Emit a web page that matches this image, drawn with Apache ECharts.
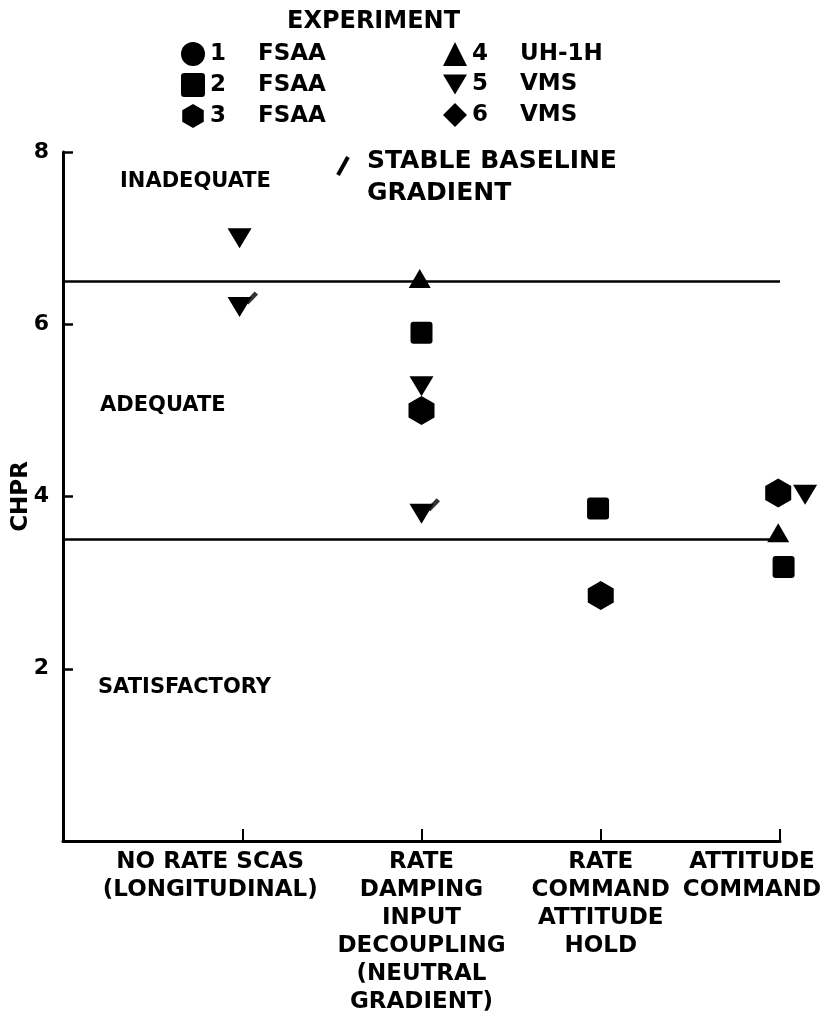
<!DOCTYPE html>
<html><head><meta charset="utf-8">
<script src="https://cdn.jsdelivr.net/npm/echarts@6/dist/echarts.min.js"></script>
<style>html,body{margin:0;padding:0;background:#fff}#c{width:831px;height:1013px}</style>
</head><body><div id="c"></div>
<script>
// categories along the x axis (positions 1..4)
const categories = [
  'NO RATE SCAS\n(LONGITUDINAL)',
  'RATE\nDAMPING\nINPUT\nDECOUPLING\n(NEUTRAL\nGRADIENT)',
  'RATE\nCOMMAND\nATTITUDE\nHOLD',
  'ATTITUDE\nCOMMAND'
];
const yTicks = [0, 2, 4, 6, 8];
const thresholds = [6.5, 3.5];
const regionLabels = ['INADEQUATE', 'ADEQUATE', 'SATISFACTORY'];
const expNames = ['1 FSAA', '2 FSAA', '3 FSAA', '4 UH-1H', '5 VMS', '6 VMS'];
// [category position (slightly jittered as in original), CHPR]
const exp1 = [];
const exp2 = [[2.0, 5.9], [2.985, 3.86], [4.02, 3.18]];
const exp3 = [[2.0, 5.0], [3.0, 2.85], [3.99, 4.04]];
const exp4 = [[1.99, 6.53], [3.99, 3.58]];
const exp5 = [[0.985, 7.0], [0.985, 6.2], [2.0, 5.28], [2.0, 3.8], [4.14, 4.02]];
const exp6 = [];
const stableBaseline = [[0.985, 6.2], [2.0, 3.8]];

const FONT = 'DejaVu Sans';
const HEX = 'path://M13,0 L26,7.5 L26,21.5 L13,29 L0,21.5 L0,7.5 Z';
const DOWN = 'path://M0,0 L24,0 L12,20 Z';
const SQUARE = 'path://M3,0 L19,0 Q22,0 22,3 L22,19 Q22,22 19,22 L3,22 Q0,22 0,19 L0,3 Q0,0 3,0 Z';
const SLASH = 'path://M0,10 L10,0 L13.5,3 L3.5,13 Z';

const symbols = ['circle', SQUARE, HEX, 'triangle', DOWN, 'diamond'];
const sizes = [26, 22, [26, 29], [22, 19], [24, 20], [24, 24]];
const datasets = [exp1, exp2, exp3, exp4, exp5, exp6];

const series = datasets.map((d, i) => ({
  name: expNames[i],
  type: 'scatter',
  data: d,
  clip: false,
  symbol: symbols[i],
  symbolSize: sizes[i],
  itemStyle: { color: '#000', opacity: 1 },
  emphasis: { disabled: true },
  z: 3
}));
series.push({
  name: 'STABLE BASELINE GRADIENT',
  type: 'scatter',
  data: stableBaseline,
  clip: false,
  symbol: SLASH,
  symbolSize: [13, 13],
  symbolOffset: [12, -9],
  itemStyle: { color: '#000' },
  emphasis: { disabled: true },
  z: 4
});
series.push({
  type: 'line',
  data: [],
  markLine: {
    silent: true,
    symbol: 'none',
    label: { show: false },
    lineStyle: { color: '#000', width: 2.5, type: 'solid' },
    data: thresholds.map(t => ({ yAxis: t }))
  }
});

const legendRich = {
  n: { fontFamily: FONT, fontWeight: 'bold', fontSize: 23, color: '#000', width: 48 },
  t: { fontFamily: FONT, fontWeight: 'bold', fontSize: 23, color: '#000' }
};
const legendFmt = name => { const p = name.split(' '); return '{n|' + p[0] + '}{t|' + p[1] + '}'; };

const labelBase = { fontFamily: FONT, fontWeight: 'bold', fontSize: 23, color: '#000', lineHeight: 28 };
const chart = echarts.init(document.getElementById('c'), null, { renderer: 'canvas' });
chart.setOption({
  backgroundColor: '#fff',
  animation: false,
  title: {
    text: 'EXPERIMENT', left: 287, top: 10, padding: 0,
    textStyle: { fontFamily: FONT, fontWeight: 'bold', fontSize: 24, color: '#000' }
  },
  legend: [
    { data: expNames.slice(0, 3), orient: 'vertical', left: 176, top: 37, itemWidth: 24, itemHeight: 24, itemGap: 7,
      formatter: legendFmt, textStyle: { rich: legendRich }, selectedMode: false },
    { data: expNames.slice(3, 6), orient: 'vertical', left: 438, top: 37, itemWidth: 24, itemHeight: 24, itemGap: 7,
      formatter: legendFmt, textStyle: { rich: legendRich }, selectedMode: false }
  ],
  grid: { left: 63, right: 51, top: 152, bottom: 172, containLabel: false, outerBoundsMode: 'none' },
  xAxis: {
    type: 'value', min: 0, max: 4, interval: 1,
    splitLine: { show: false },
    axisLine: { show: true, lineStyle: { color: '#000', width: 3 } },
    axisTick: { show: true, inside: true, length: 12, lineStyle: { color: '#000', width: 2 } },
    axisLabel: {
      margin: 7, showMaxLabel: true, hideOverlap: false,
      formatter: v => (v >= 1 && v <= 4) ? '{c' + (v - 1) + '|' + categories[v - 1] + '}' : '',
      rich: {
        c0: Object.assign({ padding: [0, 64, 0, 0] }, labelBase),
        c1: Object.assign({}, labelBase),
        c2: Object.assign({}, labelBase),
        c3: Object.assign({ padding: [0, 56, 0, 0] }, labelBase)
      }
    }
  },
  yAxis: {
    type: 'value', min: 0, max: 8, interval: 2,
    name: 'CHPR', nameLocation: 'middle', nameGap: 30, nameRotate: 90, nameMoveOverlap: false,
    nameTextStyle: { fontFamily: FONT, fontWeight: 'bold', fontSize: 23, color: '#000' },
    splitLine: { show: false },
    axisLine: { show: true, lineStyle: { color: '#000', width: 3 } },
    axisTick: { show: true, inside: true, length: 10, lineStyle: { color: '#000', width: 2.5 } },
    axisLabel: {
      margin: 14, fontFamily: FONT, fontWeight: 'bold', fontSize: 22, color: '#000', showMaxLabel: true,
      formatter: v => yTicks.includes(v) && v > 0 ? String(v) : ''
    }
  },
  graphic: [
    { type: 'text', left: 120, top: 171, style: { text: regionLabels[0], font: 'bold 21px "DejaVu Sans"', fill: '#000' } },
    { type: 'text', left: 100, top: 395, style: { text: regionLabels[1], font: 'bold 21px "DejaVu Sans"', fill: '#000' } },
    { type: 'text', left: 98, top: 677, style: { text: regionLabels[2], font: 'bold 21px "DejaVu Sans"', fill: '#000' } },
    { type: 'polyline', shape: { points: [[338, 175], [348, 157]] }, style: { stroke: '#000', lineWidth: 4, fill: null } },
    { type: 'text', left: 367, top: 145, style: { text: 'STABLE BASELINE\nGRADIENT', font: 'bold 25px "DejaVu Sans"', lineHeight: 32, fill: '#000' } }
  ],
  series: series
});
</script></body></html>
